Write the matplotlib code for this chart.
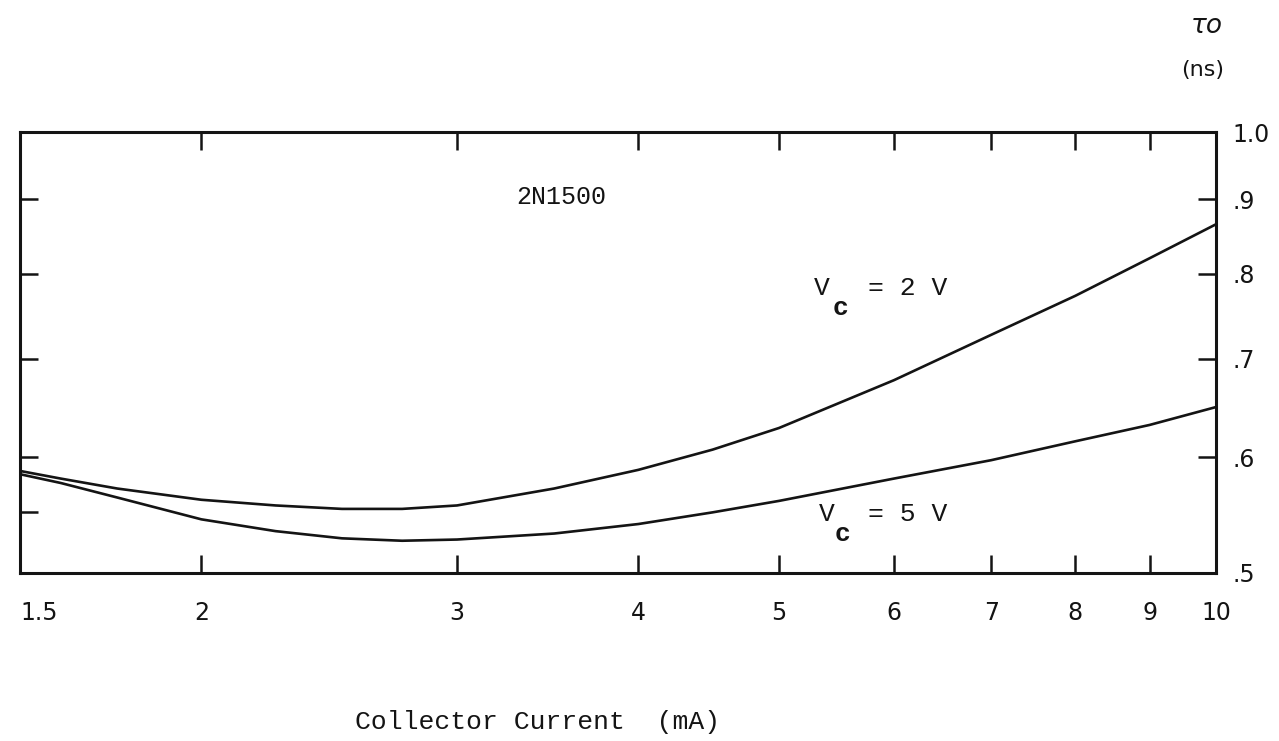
import matplotlib
matplotlib.use("Agg")
import matplotlib.pyplot as plt
from matplotlib.ticker import NullLocator, NullFormatter

# ---- data ----
current_ma = [1.5, 1.6, 1.75, 2.0, 2.25, 2.5, 2.75, 3.0, 3.5, 4.0, 4.5, 5.0, 6.0, 7.0, 8.0, 9.0, 10.0]
tau_vc2 = [0.587, 0.580, 0.571, 0.561, 0.556, 0.553, 0.553, 0.556, 0.571, 0.588, 0.607, 0.628,
           0.677, 0.727, 0.773, 0.820, 0.865]
tau_vc5 = [0.584, 0.576, 0.563, 0.544, 0.534, 0.528, 0.526, 0.527, 0.532, 0.540, 0.550, 0.560,
           0.580, 0.597, 0.615, 0.631, 0.649]

x_tick_vals = [1.5, 2, 3, 4, 5, 6, 7, 8, 9, 10]
x_tick_labels = ["1.5", "2", "3", "4", "5", "6", "7", "8", "9", "10"]
y_left_ticks = [0.55, 0.6, 0.7, 0.8, 0.9]
y_right_ticks = [0.5, 0.6, 0.7, 0.8, 0.9, 1.0]
y_right_labels = [".5", ".6", ".7", ".8", ".9", "1.0"]

W, H = 1279, 741
ink = "#141414"
mono = ["Liberation Mono", "DejaVu Sans Mono"]

fig = plt.figure(figsize=(W / 100, H / 100), dpi=100)
fig.patch.set_facecolor("white")
ax = fig.add_axes([20 / W, (H - 573) / H, 1196 / W, 441 / H])
ax.set_xscale("log")
ax.set_yscale("log")
ax.set_xlim(1.5, 10)
ax.set_ylim(0.5, 1.0)

ax.plot(current_ma, tau_vc2, color=ink, lw=1.9, solid_capstyle="round")
ax.plot(current_ma, tau_vc5, color=ink, lw=1.9, solid_capstyle="round")

for s in ax.spines.values():
    s.set_linewidth(2.2)
    s.set_color(ink)

ax.xaxis.set_minor_locator(NullLocator())
ax.xaxis.set_minor_formatter(NullFormatter())
ax.yaxis.set_minor_locator(NullLocator())
ax.yaxis.set_minor_formatter(NullFormatter())
ax.set_xticks(x_tick_vals)
ax.set_xticklabels(x_tick_labels)
ax.set_yticks(y_left_ticks)
ax.set_yticklabels([])
ax.tick_params(axis="x", which="major", direction="in", length=13, width=1.8,
               top=True, bottom=True, labelsize=17, pad=20, colors=ink)
ax.tick_params(axis="y", which="major", direction="in", length=13, width=1.8,
               left=True, right=False, labelleft=False, colors=ink)
ax.get_xticklabels()[0].set_horizontalalignment("left")

tw = ax.twinx()
tw.set_yscale("log")
tw.set_ylim(0.5, 1.0)
tw.yaxis.set_minor_locator(NullLocator())
tw.yaxis.set_minor_formatter(NullFormatter())
tw.set_yticks(y_right_ticks)
tw.set_yticklabels(y_right_labels)
tw.tick_params(axis="y", which="major", direction="in", length=13, width=1.8,
               right=True, left=False, labelsize=17, pad=12, colors=ink)
for s in tw.spines.values():
    s.set_visible(False)


def px(x, y):
    return x / W, 1 - y / H


fig.text(*px(561, 197), "2N1500", family=mono, fontsize=18, ha="center", va="center", color=ink)

# V_c = 2 V label
fig.text(*px(822, 288), "V", family=mono, fontsize=19, ha="center", va="center", color=ink)
fig.text(*px(841, 308), "c", family=mono, fontsize=19, ha="center", va="center", color=ink, weight="bold")
fig.text(*px(908, 288), "= 2 V", family=mono, fontsize=19, ha="center", va="center", color=ink)

# V_c = 5 V label
fig.text(*px(827, 514), "V", family=mono, fontsize=19, ha="center", va="center", color=ink)
fig.text(*px(843, 534), "c", family=mono, fontsize=19, ha="center", va="center", color=ink, weight="bold")
fig.text(*px(908, 514), "= 5 V", family=mono, fontsize=19, ha="center", va="center", color=ink)

fig.text(*px(538, 722), "Collector Current  (mA)", family=mono, fontsize=19,
         ha="center", va="center", color=ink)

fig.text(*px(1207, 26), "τo", fontsize=19, ha="center", va="center", color=ink, style="italic")
fig.text(*px(1203, 70), "(ns)", fontsize=16, ha="center", va="center", color=ink)

fig.savefig("out.png", dpi=100, facecolor="white")
